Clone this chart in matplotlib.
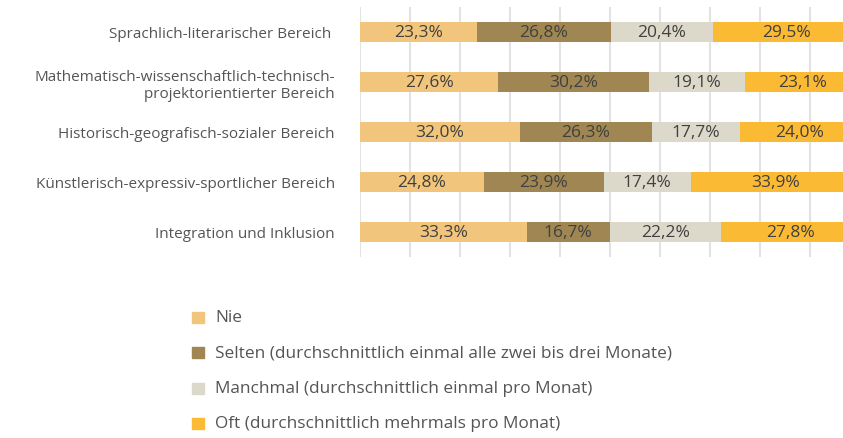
import numpy as np
import matplotlib
matplotlib.use("Agg")
import matplotlib.pyplot as plt
from matplotlib.patches import Rectangle

plt.rcParams['font.family'] = ['Open Sans', 'DejaVu Sans']

categories = [
    "Sprachlich-literarischer Bereich ",
    "Mathematisch-wissenschaftlich-technisch-\nprojektorientierter Bereich",
    "Historisch-geografisch-sozialer Bereich",
    "Künstlerisch-expressiv-sportlicher Bereich",
    "Integration und Inklusion",
]
series = [
    "Nie",
    "Selten (durchschnittlich einmal alle zwei bis drei Monate)",
    "Manchmal (durchschnittlich einmal pro Monat)",
    "Oft (durchschnittlich mehrmals pro Monat)",
]
nie = [23.3, 27.6, 32.0, 24.8, 33.3]
selten = [26.8, 30.2, 26.3, 23.9, 16.7]
manchmal = [20.4, 19.1, 17.7, 17.4, 22.2]
oft = [29.5, 23.1, 24.0, 33.9, 27.8]
colors = ['#F2C57C', '#9F8652', '#DCD8CA', '#FBBA34']

W, H = 843, 439
fig = plt.figure(figsize=(W / 100, H / 100), dpi=100)
ax = fig.add_axes([360 / W, (H - 258) / H, 500 / W, 250 / H])

y = np.arange(len(categories))
left = np.zeros(len(categories))
for vals, col in zip([nie, selten, manchmal, oft], colors):
    vals = np.array(vals)
    ax.barh(y, vals, left=left, height=0.4, color=col, zorder=2)
    for yi, l, v in zip(y, left, vals):
        ax.text(l + v / 2, yi, f"{v:.1f}%".replace('.', ','), ha='center', va='center',
                fontsize=12.5, color='#404040', zorder=3)
    left += vals

ax.set_xlim(0, 100)
ax.set_ylim(len(categories) - 0.5, -0.5)
ax.set_xticks(np.arange(0, 101, 10))
ax.xaxis.grid(True, color='#e3e3e3', lw=1.5, zorder=0)
ax.tick_params(axis='x', length=0, labelbottom=False)
ax.tick_params(axis='y', length=0, pad=18)
ax.set_yticks(y)
ax.set_yticklabels(categories, fontsize=11, color='#555555', ha='right', linespacing=1.15)
for s in ax.spines.values():
    s.set_visible(False)

legend_y = [318, 353.5, 389, 424.5]
for lab, col, ly in zip(series, colors, legend_y):
    fig.patches.append(Rectangle((192 / W, (H - ly - 5.5) / H), 12 / W, 11 / H,
                                 transform=fig.transFigure, color=col))
    fig.text(215 / W, (H - ly) / H, lab, fontsize=12.4, color='#555555', va='center')

fig.savefig('out.png', dpi=100)
